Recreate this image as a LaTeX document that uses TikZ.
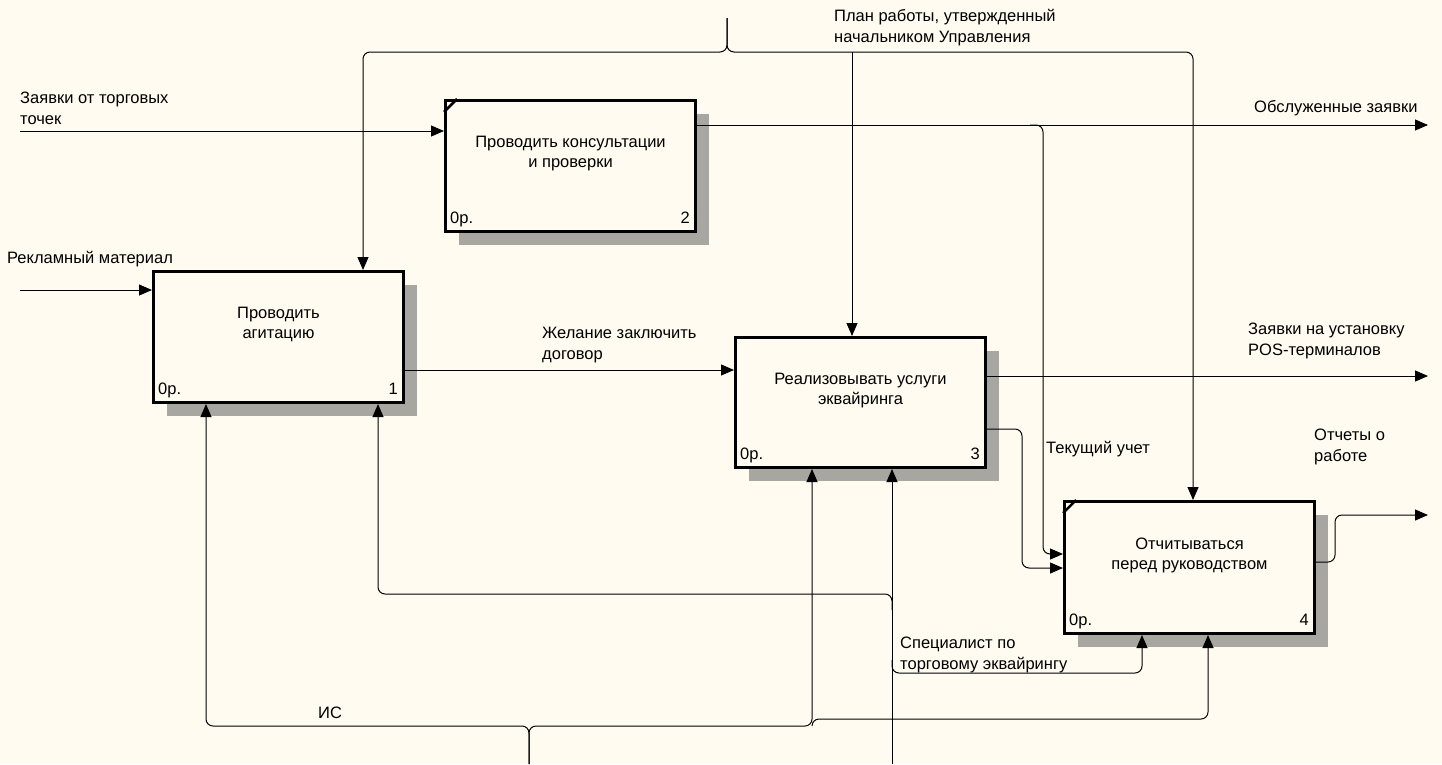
\documentclass[tikz,border=0pt]{standalone}
\usepackage{fontspec}
\setmainfont{Liberation Sans}
\usetikzlibrary{arrows.meta,shadows}
\definecolor{bg}{RGB}{255,251,240}
\definecolor{shade}{RGB}{168,166,160}
\begin{document}
\begin{tikzpicture}[x=1pt,y=-1pt,
  every node/.style={font=\fontsize{16.5}{21}\selectfont, inner sep=0pt},
  proc/.style={draw, line width=3pt, fill=bg, anchor=north west,
    minimum width=250pt, minimum height=131pt,
    drop shadow={shadow xshift=13pt, shadow yshift=-13pt, fill=shade, opacity=1}},
  ptext/.style={anchor=base, align=center, font=\fontsize{16.5}{20}\selectfont},
  lbl/.style={anchor=base west, align=left},
  conn/.style={line width=1pt, rounded corners=7pt},
  arr/.style={-{Triangle[length=13pt,width=11pt]}},
  corner/.style={line width=2.5pt}]
\fill[bg] (0,0) rectangle (1442,764);
\useasboundingbox (0,0) rectangle (1442,764);

% boxes
\node[proc] (b1) at (152,270) {};
\node[proc] (b2) at (444,99) {};
\node[proc, minimum height=130pt] (b3) at (734,336) {};
\node[proc, minimum height=132pt] (b4) at (1063,500) {};
\draw[corner] ([yshift=-13pt]b2.north west) -- ([xshift=13pt]b2.north west);
\draw[corner] ([yshift=-13pt]b4.north west) -- ([xshift=13pt]b4.north west);

% box texts (base = last line)
\node[ptext] (t1) at ([yshift=-68pt]b1.north) {Проводить\\агитацию};
\node[ptext] (t2) at ([yshift=-68pt]b2.north) {Проводить консультации\\и проверки};
\node[ptext] (t3) at ([yshift=-68pt]b3.north) {Реализовывать услуги\\эквайринга};
\node[ptext] (t4) at ([yshift=-69pt]b4.north) {Отчитываться\\перед руководством};

\foreach \b/\n in {b1/1,b2/2,b3/3,b4/4}{
  \node[anchor=base west] (\b o) at ([shift={(6pt,10pt)}]\b.south west) {0р.};
  \node[anchor=base east] (\b n) at ([shift={(-7pt,10pt)}]\b.south east) {\n};
}

% controls
\coordinate (ctl) at (727,18);
\draw[conn,arr] (ctl) |- (363,52) -- (363,0 |- b1.north);
\draw[conn,arr] (ctl) |- (1193,52) -- (1193,0 |- b4.north);
\draw[conn,arr] (852,52) -- (852,0 |- b3.north);

% inputs
\coordinate (in1) at (20,131);
\coordinate (in2) at (20,290);
\draw[conn,arr] (in1) -- (in1 -| b2.west);
\draw[conn,arr] (in2) -- (in2 -| b1.west);

% outputs
\coordinate (out1) at (1428,125);
\coordinate (out2) at (1428,376);
\coordinate (out3) at (1428,515);
\draw[conn,arr] (b2.east |- out1) -- (out1);
\draw[conn,arr] (1030,125) -| (1043,554) -- (b4.west |- 0,554);
\draw[conn,arr] (b1.east |- 0,370) -- (b3.west |- 0,370);
\draw[conn,arr] (b3.east |- out2) -- (out2);
\draw[conn,arr] (b3.east |- 0,429) -| (1022,568) -- (b4.west |- 0,568);
\draw[conn,arr] (b4.east |- 0,562) -| (1335,515) -- (out3);

% mechanisms
\coordinate (mech1) at (529,764);
\coordinate (mech2) at (892,764);
\draw[conn,arr] (mech1) |- (206,726) -- (206,0 |- b1.south);
\draw[conn,arr] (mech1) |- (812,726) -- (812,0 |- b3.south);
\draw[conn,arr] (812,726) |- (1208,719) -- (1208,0 |- b4.south);
\draw[conn,arr] (mech2) -- (mech2 |- b3.south);
\draw[conn,arr] (892,610) |- (378,594) -- (378,0 |- b1.south);
\draw[conn,arr] (892,660) |- (1142,673) -- (1142,0 |- b4.south);

% labels (multi-line: base = last line)
\node[lbl] (l1) at (834,42) {План работы, утвержденный\\начальником Управления};
\node[lbl] (l2) at (20,124) {Заявки от торговых\\точек};
\node[lbl] (l3) at (1254,112) {Обслуженные заявки};
\node[lbl] (l4) at (7,263) {Рекламный материал};
\node[lbl] (l5) at (542,359) {Желание заключить\\договор};
\node[lbl] (l6) at (1248,355) {Заявки на установку\\POS-терминалов};
\node[lbl] (l7) at (1314,461) {Отчеты о\\работе};
\node[lbl] (l8) at (1046,453) {Текущий учет};
\node[lbl] (l9) at (900,669) {Специалист по\\торговому эквайрингу};
\node[lbl] (l10) at (318,718) {ИС};
\end{tikzpicture}
\end{document}
